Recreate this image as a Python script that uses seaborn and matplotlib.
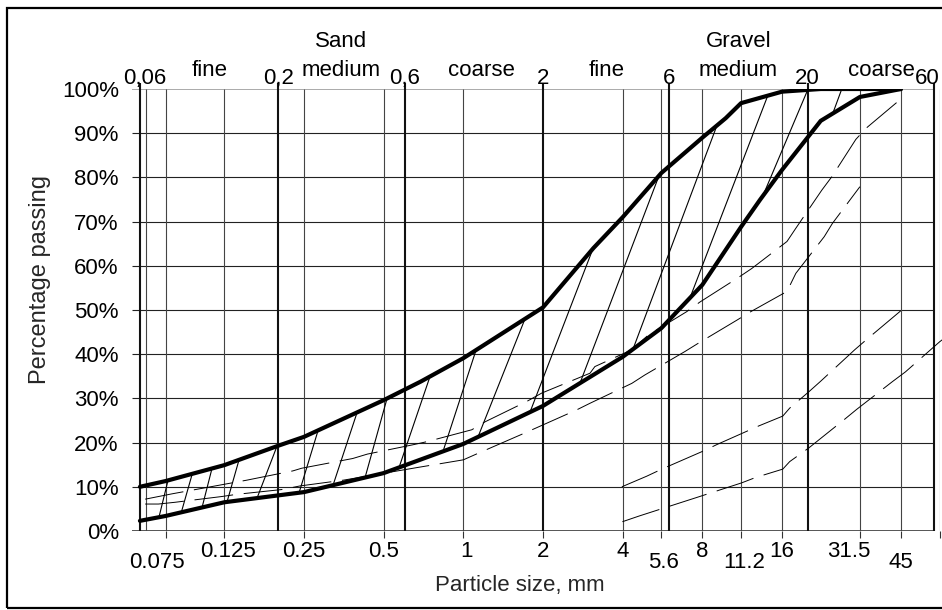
import numpy as np
import matplotlib
matplotlib.use("Agg")
import matplotlib.pyplot as plt
from matplotlib.patches import Rectangle
from matplotlib.ticker import NullLocator
import seaborn as sns

# Grading envelope: sieve size (mm) and percentage passing
UPPER_SIZE = [0.06, 0.075, 0.125, 0.2, 0.25, 0.5, 0.69, 1, 2, 3.1, 4, 5.6, 8, 9.8, 11.2, 16, 22.4, 45]
UPPER_PCT = [10.0, 11.3, 14.9, 19.3, 21.3, 29.6, 33.8, 39.1, 50.6, 64.0, 71.0, 81.0, 89.0, 93.4, 96.8, 99.4, 100, 100]

LOWER_SIZE = [0.06, 0.075, 0.125, 0.25, 0.5, 1, 2, 4, 5.6, 8, 11.2, 13.2, 16, 22.4, 31.5, 45]
LOWER_PCT = [2.3, 3.4, 6.5, 8.8, 13.1, 19.7, 28.3, 39.4, 45.9, 55.7, 68.8, 74.9, 81.7, 92.8, 98.2, 100]

# Hatching across the envelope: start size on the lower curve, end size on the upper curve
HATCH_FROM = [0.0708, 0.086, 0.103, 0.128, 0.1662, 0.2396, 0.3219, 0.4253, 0.5715,
              0.838, 1.136, 1.786, 2.759, 4.374, 7.18, 13.53, 24.87]
HATCH_TO = [0.0766, 0.0946, 0.1123, 0.1421, 0.1977, 0.2827, 0.3969, 0.515, 0.7484,
            1.117, 1.71, 3.089, 5.487, 9.08, 14.13, 20.0, 26.9]

# Reference grading curves (dashed)
CURVE_A_SIZE = [0.0628, 0.0792, 0.152, 0.227, 0.245, 0.382, 0.434, 0.644, 0.727, 1.076, 1.208,
                1.735, 1.977, 3.01, 3.14, 4.33, 4.99, 6.97, 7.83, 10.91, 12.3, 16.7, 18.04,
                22.6, 24.7, 30.4, 33.2, 44.9]
CURVE_A_PCT = [7.2, 8.4, 11.5, 13.6, 14.2, 16.4, 17.4, 19.5, 20.2, 22.9, 24.7, 29.3, 31.2, 35.7,
               37.2, 41.0, 44.3, 49.6, 51.8, 57.3, 59.4, 65.5, 68.5, 77.1, 80.2, 88.6, 91.1, 97.7]

CURVE_B_SIZE = [0.0628, 0.0705, 0.0815, 0.1223, 0.1395, 0.2075, 0.2418, 0.352, 0.676, 1.0, 1.139,
                1.637, 1.865, 2.68, 3.01, 4.33, 4.85, 6.87, 7.73, 10.8, 12.17, 16.7, 18.04, 23.1,
                24.8, 31.5]
CURVE_B_PCT = [6.1, 6.1, 6.5, 7.8, 8.3, 9.4, 10.2, 11.5, 14.4, 16.1, 17.6, 21.7, 23.2, 27.4, 28.9,
               33.4, 35.3, 40.6, 42.5, 47.7, 49.6, 54.2, 58.3, 66.6, 69.6, 77.9]

CURVE_C_SIZE = [3.97, 4.93, 5.62, 8.07, 9.11, 13.1, 14.8, 16.1, 17.1, 20.2, 22.4, 30.1, 33.2, 44.9]
CURVE_C_PCT = [10.0, 12.4, 14.0, 18.1, 19.6, 23.8, 25.1, 26.0, 27.8, 31.5, 33.9, 41.0, 43.2, 49.8]

CURVE_D_SIZE = [3.99, 4.62, 6.77, 7.63, 11.27, 12.7, 16.1, 17.1, 20.2, 27.6, 30.6, 41.8, 46.8, 63.0, 64.6]
CURVE_D_PCT = [2.1, 3.4, 6.6, 7.6, 10.9, 12.1, 14.0, 15.7, 18.8, 25.3, 27.5, 33.8, 36.0, 42.8, 43.3]

# Sieve sizes and soil-class boundaries
SIEVES = [0.063, 0.075, 0.125, 0.25, 0.5, 1, 4, 5.6, 8, 11.2, 16, 31.5, 45, 63]
BOUNDARIES = [0.06, 0.2, 0.6, 2, 6, 20, 60]
BOUNDARY_LABELS = ["0,06", "0,2", "0,6", "2", "6", "20", "60"]
FRACTIONS = ["fine", "medium", "coarse", "fine", "medium", "coarse"]
GROUPS = ["Sand", "Gravel"]

SIEVE_TICKS = [0.075, 0.125, 0.25, 0.5, 1, 2, 4, 5.6, 8, 11.2, 16, 31.5, 45]
SIEVE_TICK_LABELS = ["0.075", "0.125", "0.25", "0.5", "1", "2", "4", "5.6", "8", "11.2", "16", "31.5", "45"]
PCT_TICKS = list(range(0, 101, 10))

sns.set_theme(style="white")
plt.rcParams["font.family"] = ["Liberation Sans", "DejaVu Sans"]
FS = 16

W, H = 942, 610
fig = plt.figure(figsize=(W / 100, H / 100), dpi=100)
fig.patch.set_facecolor("white")
ax = fig.add_axes([132 / W, 79 / H, (939.6 - 132) / W, 442 / H])
ax.set_xscale("log")
ax.set_xlim(0.056, 63)
ax.set_ylim(0, 100)
for s in ax.spines.values():
    s.set_visible(False)

# grid
ax.hlines(PCT_TICKS[1:-1], 0.056, 60, color="#222222", lw=0.8, zorder=1)
ax.hlines([0], 0.056, 60, color="#555555", lw=1.4, zorder=1)
ax.hlines([100], 0.056, 60, color="#aaaaaa", lw=1.4, zorder=1)
ax.vlines(SIEVES, 0, 100, color="#444444", lw=0.8, zorder=1)
ax.vlines(BOUNDARIES, 0, 101.3, color="#111111", lw=1.5, zorder=1, clip_on=False)

# hatching between the envelope curves
lx = np.log(LOWER_SIZE)
ux = np.log(UPPER_SIZE)
for a, b in zip(HATCH_FROM, HATCH_TO):
    ya = np.interp(np.log(a), lx, LOWER_PCT)
    yb = np.interp(np.log(b), ux, UPPER_PCT)
    ax.plot([a, b], [ya, yb], color="black", lw=0.8, zorder=2)

# dashed grading curves
for xs, ys in [(CURVE_A_SIZE, CURVE_A_PCT), (CURVE_B_SIZE, CURVE_B_PCT),
               (CURVE_C_SIZE, CURVE_C_PCT), (CURVE_D_SIZE, CURVE_D_PCT)]:
    ax.plot(xs, ys, color="black", lw=0.7, linestyle=(0, (40, 11)), zorder=2, clip_on=False)

# envelope curves
sns.lineplot(x=UPPER_SIZE, y=UPPER_PCT, sort=False, color="black", lw=3.0, ax=ax, zorder=3)
sns.lineplot(x=LOWER_SIZE, y=LOWER_PCT, sort=False, color="black", lw=3.0, ax=ax, zorder=3)

# axes ticks
ax.xaxis.set_minor_locator(NullLocator())
ax.set_xticks(SIEVE_TICKS + [63])
ax.tick_params(axis="x", bottom=True, length=5, width=0.8, color="#333333", labelbottom=False)
ax.set_yticks(PCT_TICKS)
ax.set_yticklabels([f"{v}%" for v in PCT_TICKS])
ax.tick_params(axis="y", left=False, length=0, pad=9.5, labelsize=FS, labelcolor="black")
ax.set_xlabel("")
ax.set_ylabel("")

# sieve size labels below the axis (staggered)
xt = ax.get_xaxis_transform()
low_row = {"0.075", "5.6", "11.2", "45"}
nudge = {"0.075": 0.93, "0.125": 1.03, "1": 1.03, "31.5": 0.91, "5.6": 1.02, "11.2": 1.03}
for v, lab in zip(SIEVE_TICKS, SIEVE_TICK_LABELS):
    y = -0.0837 if lab in low_row else -0.0581
    ax.text(v * nudge.get(lab, 1.0), y, lab, transform=xt, ha="center", va="baseline",
            fontsize=FS, color="black")

# class boundary labels above the axis
bnudge = {"0,06": 1.043, "60": 0.941}
for v, lab in zip(BOUNDARIES, BOUNDARY_LABELS):
    ax.text(v * bnudge.get(lab, 1.0), 101.06, lab, ha="center", va="baseline", fontsize=FS,
            color="black", clip_on=False)
fnudge = [1.0, 1.0, 1.072, 1.0, 1.0, 1.10]
for i, lab in enumerate(FRACTIONS):
    xm = np.sqrt(BOUNDARIES[i] * BOUNDARIES[i + 1]) * fnudge[i]
    ax.text(xm, 102.9, lab, ha="center", va="baseline", fontsize=FS, color="black", clip_on=False)
for lab, (a, b) in zip(GROUPS, [(BOUNDARIES[0], BOUNDARIES[3]), (BOUNDARIES[3], BOUNDARIES[6])]):
    ax.text(np.sqrt(a * b), 109.5, lab, ha="center", va="baseline", fontsize=FS, color="black",
            clip_on=False)

fig.text(520 / W, (H - 590.7) / H, "Particle size, mm", ha="center", va="baseline", fontsize=FS)
fig.text(40 / W, (H - 280) / H, "Percentage passing", ha="center", va="center",
         rotation=90, fontsize=FS + 1)

# outer frame
fig.patches.append(Rectangle((7 / W, 2 / H), 1.2, 600 / H, transform=fig.transFigure,
                             fill=False, edgecolor="black", lw=1.6))

fig.savefig("out.png", dpi=100, facecolor="white")
